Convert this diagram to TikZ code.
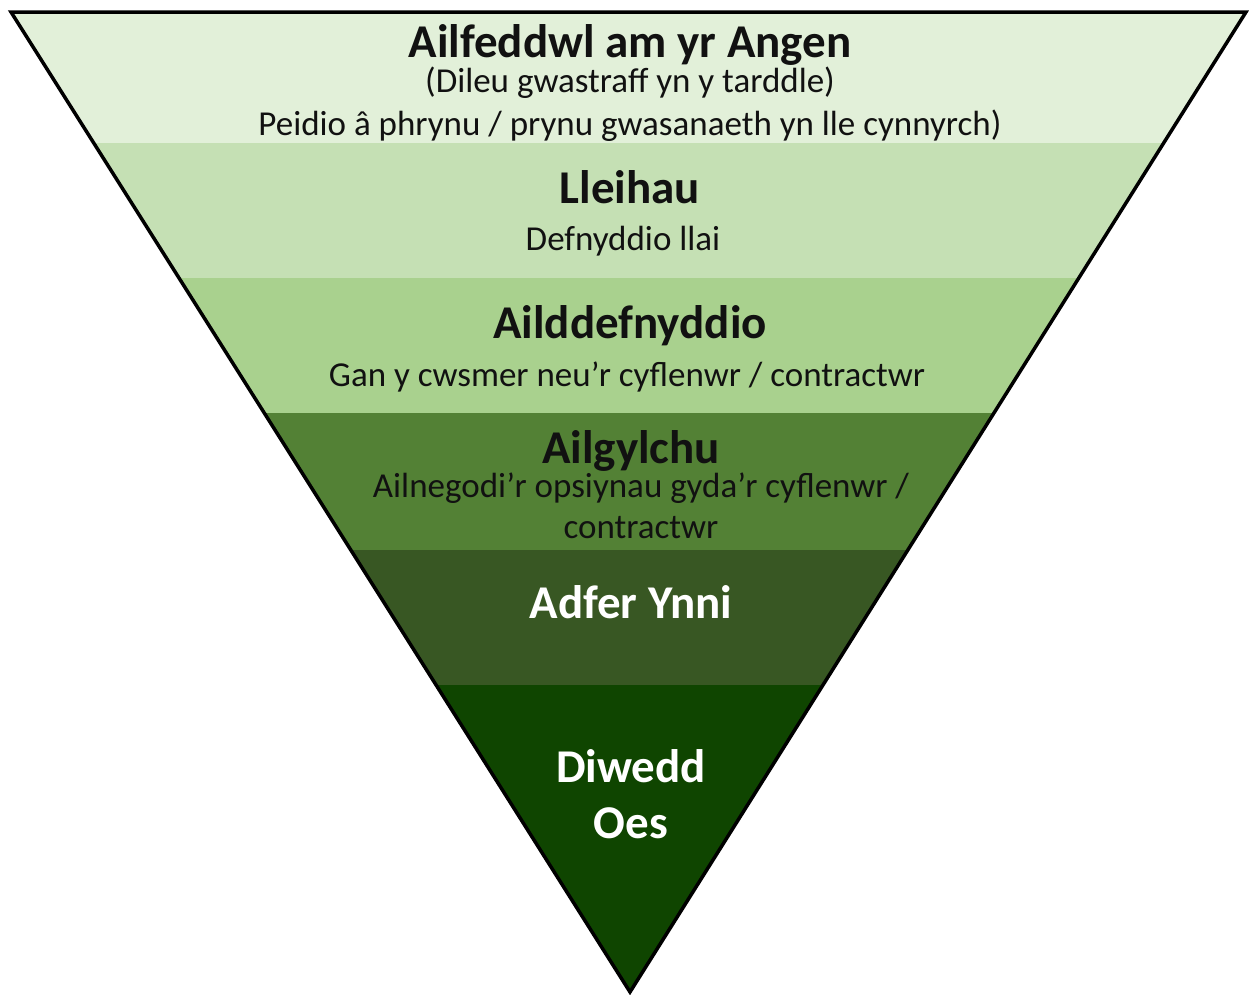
\documentclass[tikz,border=0pt]{standalone}
\usepackage{fontspec}
\setmainfont{Carlito}
\definecolor{bandA}{HTML}{E2F0D9}
\definecolor{bandB}{HTML}{C5E0B4}
\definecolor{bandC}{HTML}{A9D18E}
\definecolor{bandD}{HTML}{538135}
\definecolor{bandE}{HTML}{385723}
\definecolor{bandF}{HTML}{0F4500}
\definecolor{ink}{HTML}{111111}
\tikzset{
  head/.style={anchor=base,inner sep=0pt,text=ink,font=\fontsize{47}{49}\selectfont\bfseries},
  sub/.style={anchor=base,inner sep=0pt,text=ink,font=\fontsize{35}{37}\selectfont},
  whead/.style={head,text=white}
}
\begin{document}
\begin{tikzpicture}[x=1pt,y=-1pt]
\useasboundingbox (0,0) rectangle (1249,994);
\coordinate (tl) at (11,12);
\coordinate (tr) at (1246,12);
\coordinate (ap) at (630,992);
\begin{scope}
\clip (tl) -- (tr) -- (ap) -- cycle;
\fill[bandA] (0,0) rectangle (1249,143);
\fill[bandB] (0,143) rectangle (1249,278);
\fill[bandC] (0,278) rectangle (1249,413);
\fill[bandD] (0,413) rectangle (1249,550);
\fill[bandE] (0,550) rectangle (1249,685);
\fill[bandF] (0,685) rectangle (1249,994);
\end{scope}
\draw[line width=3.5pt,line join=miter] (tl) -- (tr) -- (ap) -- cycle;
\node[head] (t1) at (630,57) {Ailfeddwl am yr Angen};
\node[sub] (s1a) at (630,92) {(Dileu gwastraff yn y tarddle)};
\node[sub] (s1b) at (630,135) {Peidio â phrynu / prynu gwasanaeth yn lle cynnyrch)};
\node[head] (t2) at (630,203) {Lleihau};
\node[sub] (s2) at (623,250) {Defnyddio llai};
\node[head] (t3) at (630,338) {Ailddefnyddio};
\node[sub] (s3) at (627,386) {Gan y cwsmer neu’r cyflenwr / contractwr};
\node[head] (t4) at (631,463) {Ailgylchu};
\node[sub] (s4a) at (641,497) {Ailnegodi’r opsiynau gyda’r cyflenwr /};
\node[sub] (s4b) at (641,538) {contractwr};
\node[whead] (t5) at (631,618) {Adfer Ynni};
\node[whead] (t6a) at (631,782) {Diwedd};
\node[whead] (t6b) at (631,838) {Oes};
\end{tikzpicture}
\end{document}
